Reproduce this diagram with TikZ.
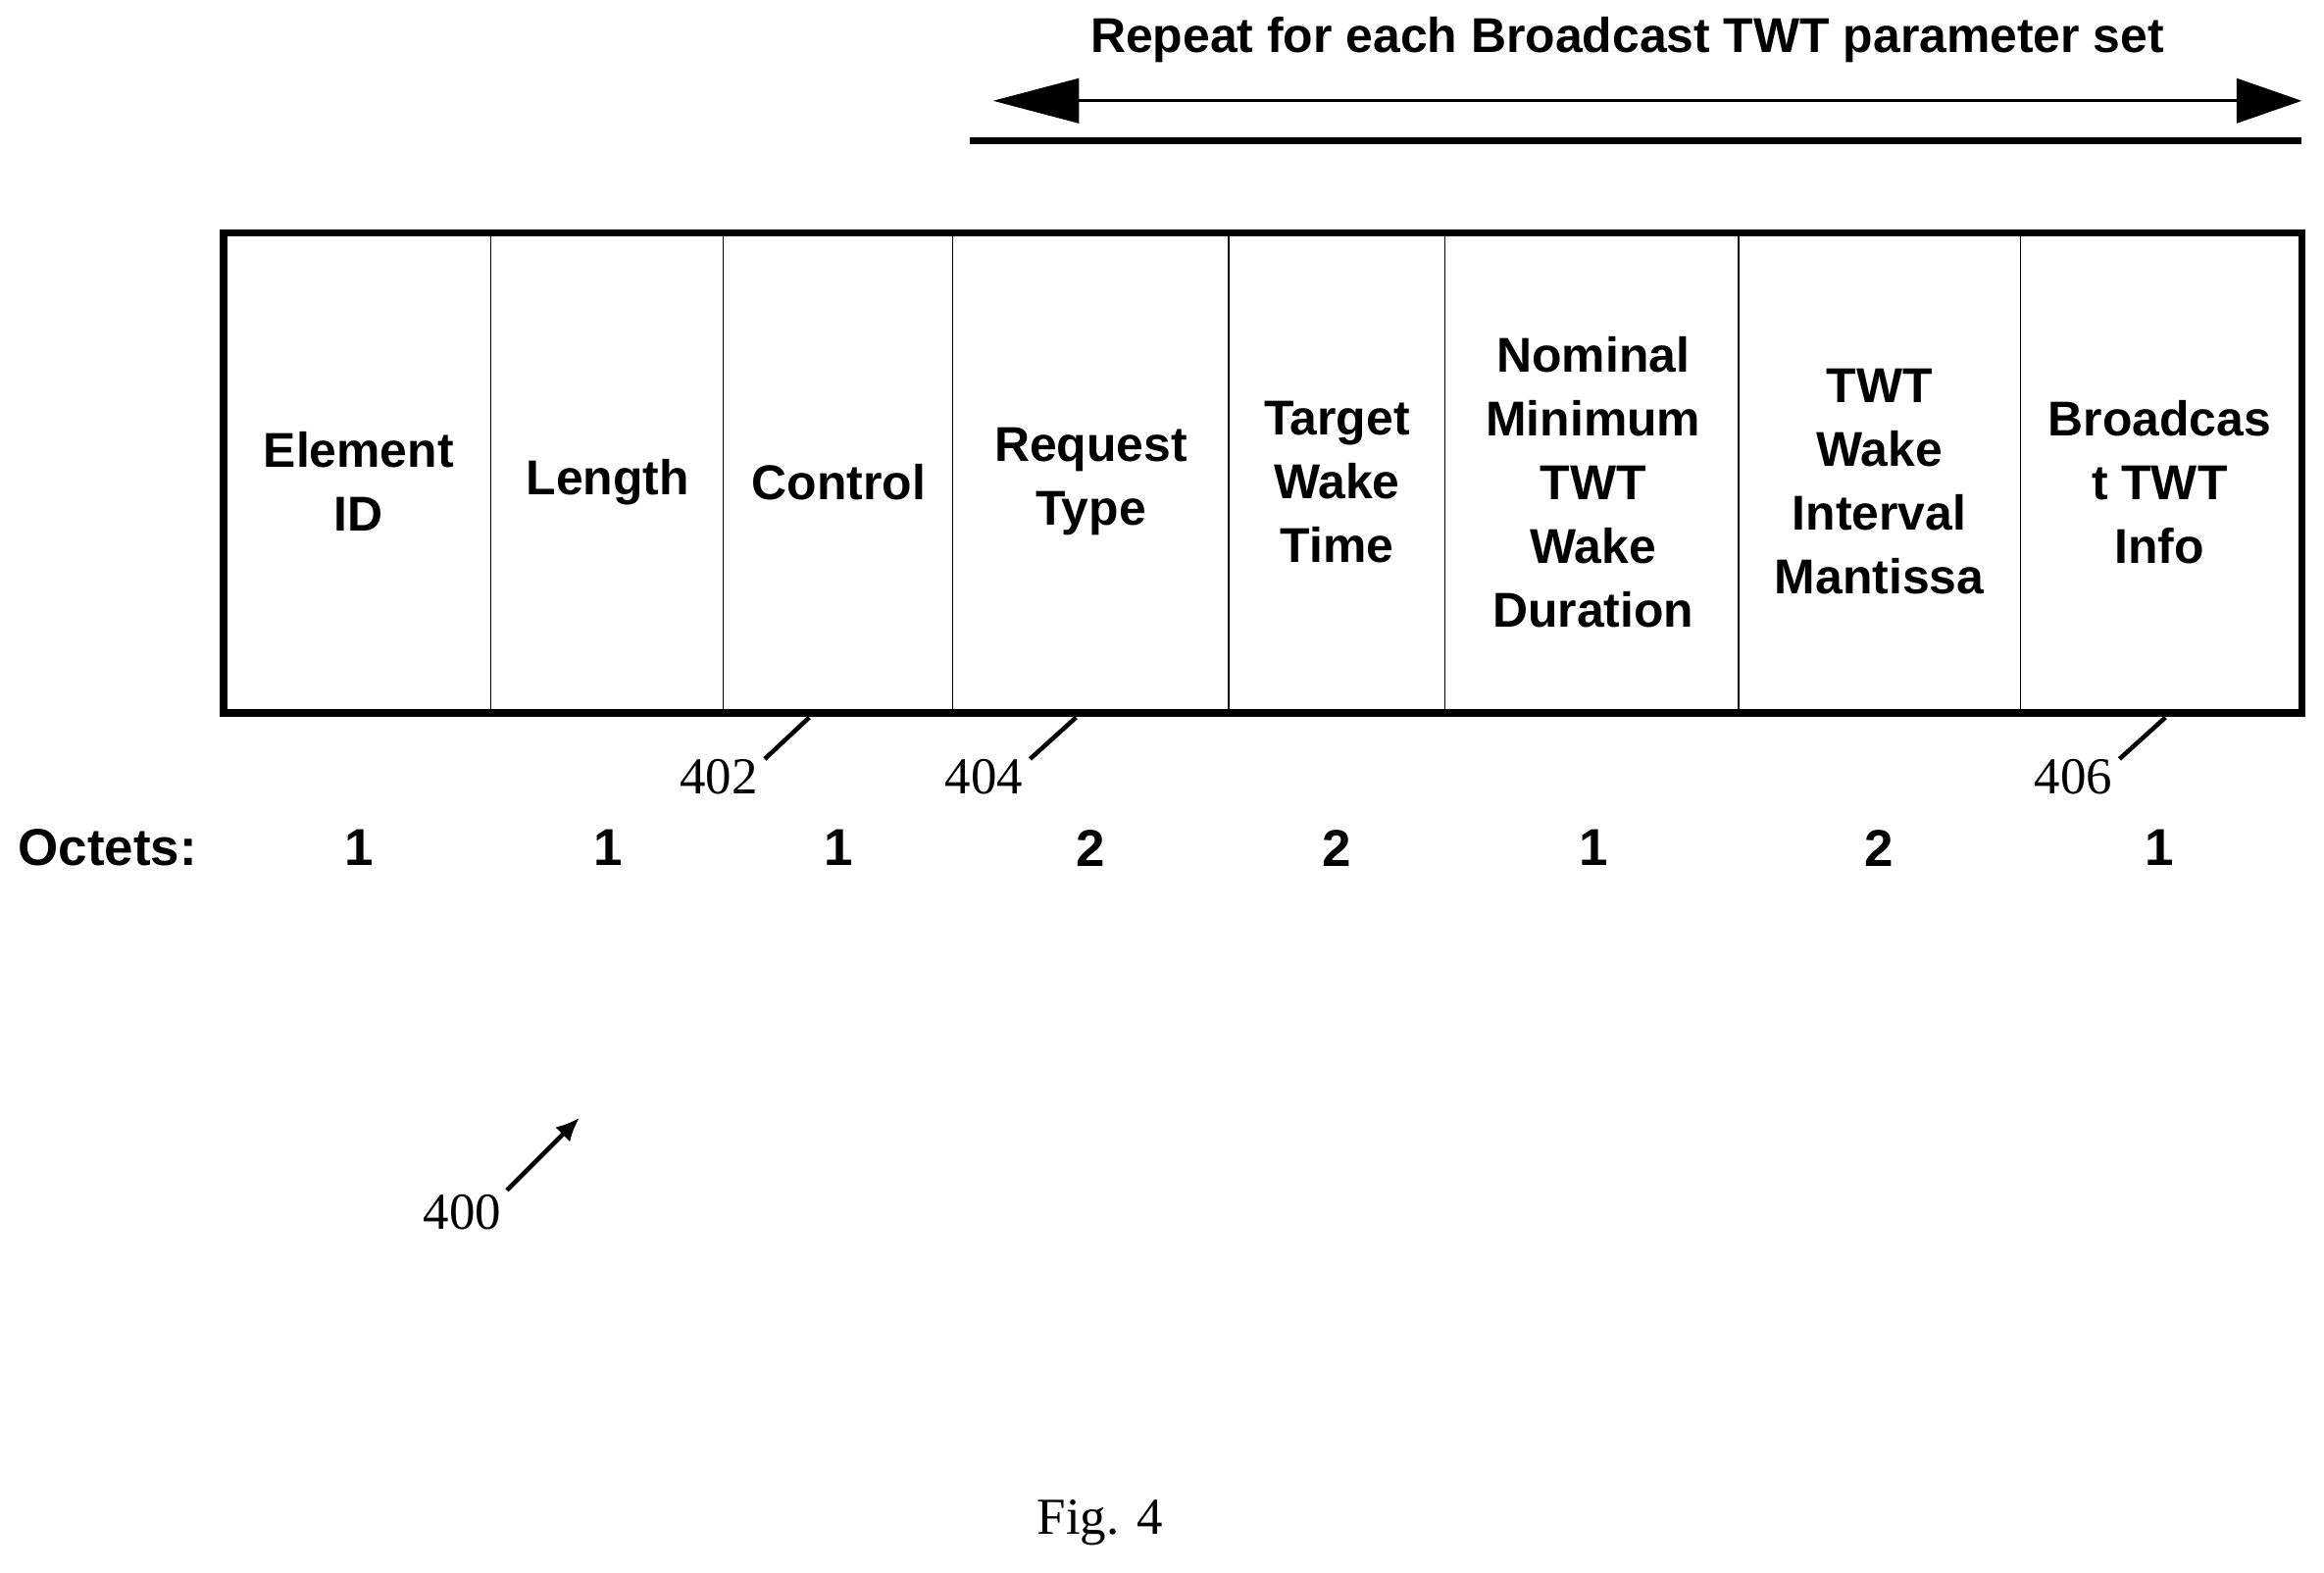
\documentclass[tikz,border=0pt]{standalone}
\usepackage{fontspec}
\setmainfont{Liberation Sans}
\newfontfamily\serifnum{Liberation Serif}
\usetikzlibrary{arrows.meta}
\begin{document}
\begin{tikzpicture}[x=1pt,y=-1pt,
  lbl/.style={font=\fontsize{33}{43}\selectfont\bfseries,align=center,inner sep=0},
  ref/.style={font=\serifnum\fontsize{35}{40}\selectfont,inner sep=0},
  oct/.style={font=\fontsize{35}{40}\selectfont\bfseries,inner sep=0}]
\useasboundingbox (0,0) rectangle (1568,1061);
\draw[line width=5pt] (151,157) rectangle (1553,481);
\foreach \x in {331,488,643,829,975,1173,1363}{\draw[line width=0.8pt] (\x,159)--(\x,479);}
\node[lbl] (f1) at (242,325) {Element\\ID};
\node[lbl] (f2) at (410,325) {Length};
\node[lbl] (f3) at (566,325) {Control};
\node[lbl] (f4) at (736,325) {Request\\Type};
\node[lbl] (f5) at (902,325) {Target\\Wake\\Time};
\node[lbl] (f6) at (1075,325) {Nominal\\Minimum\\TWT\\Wake\\Duration};
\node[lbl] (f7) at (1268,325) {TWT\\Wake\\Interval\\Mantissa};
\node[lbl] (f8) at (1457,325) {Broadcas\\t TWT\\Info};
\node[oct,anchor=west] (oc) at (12,572) {Octets:};
\node[oct] (o1) at (242,572) {1};
\node[oct] (o2) at (410,572) {1};
\node[oct] (o3) at (566,572) {1};
\node[oct] (o4) at (736,572) {2};
\node[oct] (o5) at (902,572) {2};
\node[oct] (o6) at (1075,572) {1};
\node[oct] (o7) at (1268,572) {2};
\node[oct] (o8) at (1457,572) {1};
\node[ref] (r402) at (485,524) {402};
\node[ref] (r404) at (664,524) {404};
\node[ref] (r406) at (1399,524) {406};
\node[ref] (r400) at (312,818) {400};
\coordinate (t402) at (546,484);
\coordinate (t404) at (726,484);
\coordinate (t406) at (1461,484);
\coordinate (t400) at (391,754);
\draw[line width=3pt] (516,512)--(t402);
\draw[line width=3pt] (695,512)--(t404);
\draw[line width=3pt] (1430,512)--(t406);
\draw[line width=3pt,-{Latex[length=16pt,width=14pt]}] (342,803)--(t400);
\node[lbl] (rep) at (1098,27) {Repeat for each Broadcast TWT parameter set};
\coordinate (al) at (670,68);
\coordinate (ar) at (1553,68);
\draw[line width=2pt,{Triangle[length=58pt,width=30pt]}-{Triangle[length=44pt,width=30pt]}] (al)--(ar);
\draw[line width=5pt] (654,95)--(1553,95);
\node[font=\serifnum\fontsize{35}{40}\selectfont,inner sep=0] (fig) at (742,1027) {Fig. 4};
\end{tikzpicture}
\end{document}
